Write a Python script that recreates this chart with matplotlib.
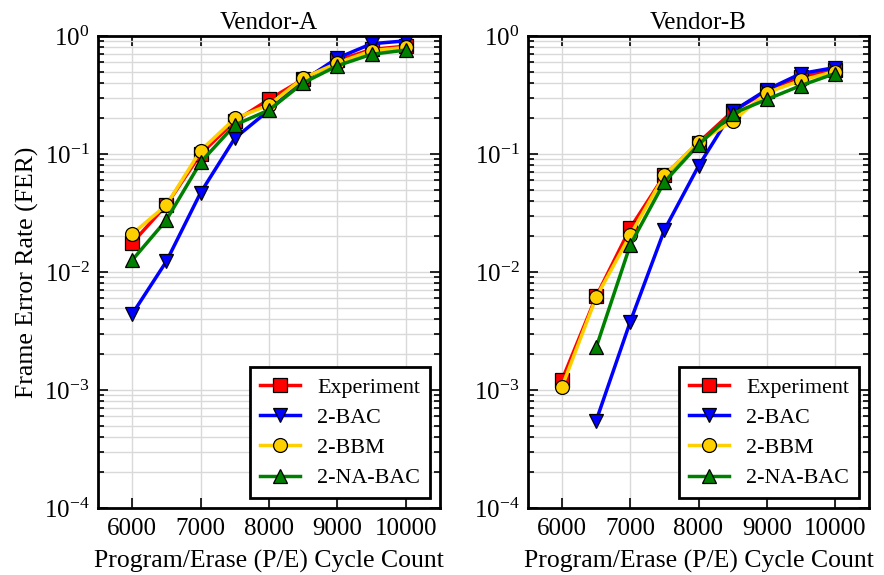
import matplotlib
matplotlib.use("Agg")
import matplotlib.pyplot as plt
from matplotlib.ticker import LogLocator, NullFormatter, MultipleLocator

plt.rcParams["font.family"] = ["Liberation Serif", "DejaVu Serif"]
plt.rcParams["mathtext.fontset"] = "stix"

pe_cycles = [6000, 6500, 7000, 7500, 8000, 8500, 9000, 9500, 10000]
series_names = ["Experiment", "2-BAC", "2-BBM", "2-NA-BAC"]

# Vendor-A frame error rates
vendor_a = {
    "Experiment": [0.0176, 0.037, 0.100, 0.19, 0.29, 0.43, 0.62, 0.77, 0.82],
    "2-BAC": [0.0044, 0.0123, 0.047, 0.136, 0.235, 0.42, 0.65, 0.86, 0.91],
    "2-BBM": [0.021, 0.037, 0.107, 0.20, 0.26, 0.44, 0.59, 0.75, 0.80],
    "2-NA-BAC": [0.0126, 0.0276, 0.085, 0.176, 0.236, 0.40, 0.56, 0.70, 0.76],
}

# Vendor-B frame error rates (None = no measurement)
vendor_b = {
    "Experiment": [0.00122, 0.0062, 0.0236, 0.066, 0.125, 0.23, 0.34, 0.45, 0.515],
    "2-BAC": [None, 0.00055, 0.0038, 0.0227, 0.079, 0.23, 0.35, 0.48, 0.54],
    "2-BBM": [0.00107, 0.0061, 0.0206, 0.066, 0.126, 0.19, 0.33, 0.42, 0.50],
    "2-NA-BAC": [None, 0.0023, 0.017, 0.058, 0.12, 0.22, 0.29, 0.38, 0.48],
}

styles = {
    "Experiment": dict(color="#ff0000", marker="s"),
    "2-BAC": dict(color="#0000ff", marker="v"),
    "2-BBM": dict(color="#ffd000", marker="o"),
    "2-NA-BAC": dict(color="#008000", marker="^"),
}

fig = plt.figure(figsize=(8.84, 5.75), dpi=100)
W, H = 884, 575
panels = [
    ("Vendor-A", vendor_a, (98, 36, 440, 508)),
    ("Vendor-B", vendor_b, (528, 36, 869, 508)),
]

for idx, (title, data, (x0, y0, x1, y1)) in enumerate(panels):
    ax = fig.add_axes([x0 / W, 1 - y1 / H, (x1 - x0) / W, (y1 - y0) / H])
    for name in series_names:
        xs = [x for x, v in zip(pe_cycles, data[name]) if v is not None]
        ys = [v for v in data[name] if v is not None]
        st = styles[name]
        ax.plot(xs, ys, color=st["color"], marker=st["marker"], lw=2.5,
                ms=10, mfc=st["color"], mec="black", mew=0.9, label=name)
    ax.set_yscale("log")
    ax.set_ylim(1e-4, 1)
    ax.set_xlim(5500, 10500)
    ax.xaxis.set_major_locator(MultipleLocator(1000))
    ax.yaxis.set_major_locator(LogLocator(base=10, numticks=10))
    ax.yaxis.set_minor_locator(LogLocator(base=10, subs=range(2, 10), numticks=20))
    ax.yaxis.set_minor_formatter(NullFormatter())
    ax.grid(True, which="major", color="#d9d9d9", lw=1.0)
    ax.grid(True, which="minor", axis="y", color="#d9d9d9", lw=1.0)
    ax.set_axisbelow(True)
    ax.tick_params(which="both", direction="in", top=True, right=True,
                   labelsize=18, width=1.2)
    ax.tick_params(which="major", length=7, pad=6)
    ax.tick_params(axis="x", which="major", pad=7)
    ax.tick_params(which="minor", length=4)
    for sp in ax.spines.values():
        sp.set_linewidth(2.0)
    ax.set_title(title, fontsize=18, pad=5)
    ax.set_xlabel("Program/Erase (P/E) Cycle Count", fontsize=18.5, labelpad=7)
    if idx == 0:
        ax.set_ylabel("Frame Error Rate (FER)", fontsize=18.5, labelpad=4)
    leg = ax.legend(loc="lower right", fontsize=15.8, fancybox=False,
                    framealpha=1, edgecolor="black", handlelength=1.8,
                    borderpad=0.45, labelspacing=0.45, handletextpad=0.8,
                    borderaxespad=0.45)
    leg.get_frame().set_linewidth(2.0)

fig.savefig("out.png", dpi=100)
